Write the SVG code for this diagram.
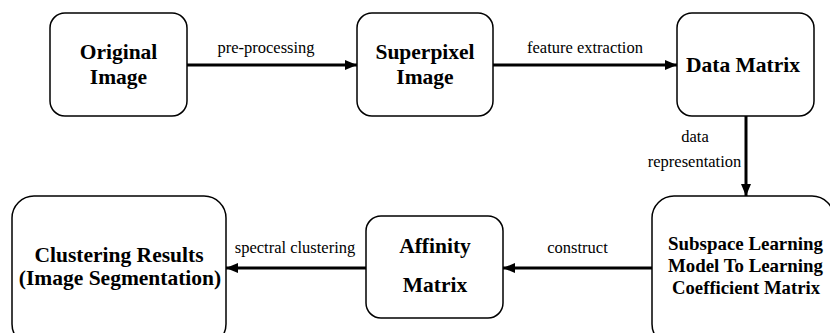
<svg xmlns="http://www.w3.org/2000/svg" width="830" height="333" viewBox="0 0 830 333">
<style>
.box{fill:#fff;stroke:#000;stroke-width:1.5}
.t{font-family:"Liberation Serif","Times New Roman",serif;font-weight:bold;font-size:21.5px;text-anchor:middle;fill:#000}
.s{font-size:19.5px}
.l{font-family:"Liberation Serif","Times New Roman",serif;font-size:16.5px;text-anchor:middle;fill:#000}
.c{stroke:#000;stroke-width:3;fill:none;marker-end:url(#ah)}
</style>
<defs>
<marker id="ah" viewBox="0 0 12 10" refX="12" refY="5" markerWidth="4" markerHeight="3.5" markerUnits="strokeWidth" orient="auto">
<path d="M0,0 L12,5 L0,10 z" fill="#000"/>
</marker>
</defs>
<rect width="830" height="333" fill="#fff"/>
<g id="connectors">
<line class="c" x1="187" y1="65" x2="357" y2="65"/>
<line class="c" x1="493" y1="65" x2="677" y2="65"/>
<line class="c" x1="746" y1="116" x2="746" y2="196"/>
<line class="c" x1="652" y1="268" x2="503" y2="268"/>
<line class="c" x1="366" y1="268" x2="226" y2="268"/>
<text class="l" x="266" y="53">pre-processing</text>
<text class="l" x="585" y="53">feature extraction</text>
<text class="l" x="695" y="142">data</text>
<text class="l" x="694.5" y="167">representation</text>
<text class="l" x="577.5" y="253">construct</text>
<text class="l" x="295" y="253">spectral clustering</text>
</g>
<g id="original">
<rect class="box" x="50" y="13" width="137" height="103" rx="15"/>
<text class="t" x="118.5" y="59">Original</text>
<text class="t" x="118.5" y="84">Image</text>
</g>
<g id="superpixel">
<rect class="box" x="357" y="13" width="136" height="103" rx="15"/>
<text class="t" x="425" y="59">Superpixel</text>
<text class="t" x="425" y="84">Image</text>
</g>
<g id="datamatrix">
<rect class="box" x="677" y="13" width="137" height="103" rx="15"/>
<text class="t" x="743" y="72" font-size="22">Data Matrix</text>
</g>
<g id="subspace">
<rect class="box" x="652" y="196" width="182" height="150" rx="22"/>
<text class="t s" x="745.5" y="250" textLength="155" lengthAdjust="spacingAndGlyphs">Subspace Learning</text>
<text class="t s" x="745.5" y="272" textLength="155" lengthAdjust="spacingAndGlyphs">Model To Learning</text>
<text class="t s" x="746" y="294" textLength="148" lengthAdjust="spacingAndGlyphs">Coefficient Matrix</text>
</g>
<g id="affinity">
<rect class="box" x="366" y="216" width="137" height="102" rx="15"/>
<text class="t" x="435" y="253">Affinity</text>
<text class="t" x="435" y="292">Matrix</text>
</g>
<g id="clustering">
<rect class="box" x="12" y="196" width="214" height="150" rx="22"/>
<text class="t" x="119" y="262">Clustering Results</text>
<text class="t" x="120" y="285">(Image Segmentation)</text>
</g>
</svg>
